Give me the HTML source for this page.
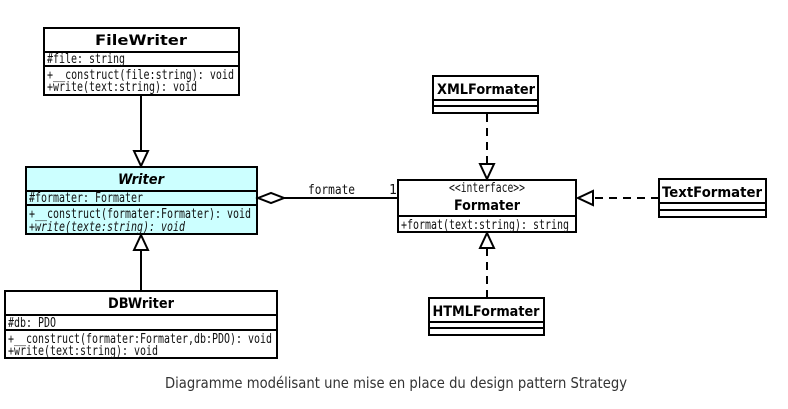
<!DOCTYPE html>
<html><head><meta charset="utf-8"><style>
body{margin:0;background:#fff;}
svg{display:block}
.m{font-family:"DejaVu Sans Mono",monospace;font-size:13px;fill:#111}
.b{font-family:"DejaVu Sans","Liberation Sans",sans-serif;font-size:14px;font-weight:bold;fill:#000}
</style></head><body>
<svg width="788" height="409" viewBox="0 0 788 409" xmlns="http://www.w3.org/2000/svg">
<rect width="788" height="409" fill="#fff"/>
<g stroke="#000" stroke-width="2" fill="#fff">
<rect x="44" y="28" width="195" height="67"/>
<line x1="44" y1="52" x2="239" y2="52"/><line x1="44" y1="66" x2="239" y2="66"/>
<rect x="26" y="167" width="231" height="67" fill="#ccffff"/>
<line x1="26" y1="191" x2="257" y2="191"/><line x1="26" y1="205" x2="257" y2="205"/>
<rect x="5" y="291" width="272" height="67"/>
<line x1="5" y1="315" x2="277" y2="315"/><line x1="5" y1="330" x2="277" y2="330"/>
<rect x="398" y="180" width="178" height="52"/>
<line x1="398" y1="216" x2="576" y2="216"/>
<rect x="433" y="76" width="105" height="37"/>
<line x1="433" y1="100" x2="538" y2="100"/><line x1="433" y1="106" x2="538" y2="106"/>
<rect x="659" y="179" width="107" height="38"/>
<line x1="659" y1="203" x2="766" y2="203"/><line x1="659" y1="210" x2="766" y2="210"/>
<rect x="429" y="298" width="115" height="37"/>
<line x1="429" y1="322" x2="544" y2="322"/><line x1="429" y1="328" x2="544" y2="328"/>
<line x1="141" y1="95" x2="141" y2="151"/>
<polygon points="134,151 148,151 141,166"/>
<line x1="141" y1="291" x2="141" y2="250"/>
<polygon points="134,250 148,250 141,235"/>
<line x1="284" y1="198" x2="398" y2="198"/>
<polygon points="258,198 271,193 284,198 271,203"/>
<g stroke-dasharray="8,6">
<line x1="487" y1="114" x2="487" y2="164"/>
<line x1="659" y1="198" x2="593" y2="198"/>
<line x1="487" y1="298" x2="487" y2="248"/>
</g>
<polygon points="480,164 494,164 487,179"/>
<polygon points="593,191 593,205 578,198"/>
<polygon points="480,248 494,248 487,233"/>
</g>
<text class="b" x="141" y="45" text-anchor="middle" textLength="92" lengthAdjust="spacingAndGlyphs">FileWriter</text>
<text class="m" x="47" y="63" textLength="78" lengthAdjust="spacingAndGlyphs">#file: string</text>
<text class="m" x="47" y="79" textLength="187" lengthAdjust="spacingAndGlyphs">+__construct(file:string): void</text>
<text class="m" x="47" y="91" textLength="150" lengthAdjust="spacingAndGlyphs">+write(text:string): void</text>
<text class="b" x="141" y="184" text-anchor="middle" font-style="italic" textLength="46" lengthAdjust="spacingAndGlyphs">Writer</text>
<text class="m" x="29" y="202" textLength="114" lengthAdjust="spacingAndGlyphs">#formater: Formater</text>
<text class="m" x="29" y="218" textLength="222" lengthAdjust="spacingAndGlyphs">+__construct(formater:Formater): void</text>
<text class="m" x="29" y="231" font-style="italic" textLength="156" lengthAdjust="spacingAndGlyphs">+write(texte:string): void</text>
<text class="b" x="141" y="308" text-anchor="middle" textLength="66" lengthAdjust="spacingAndGlyphs">DBWriter</text>
<text class="m" x="8" y="327" textLength="48" lengthAdjust="spacingAndGlyphs">#db: PDO</text>
<text class="m" x="8" y="343" textLength="264" lengthAdjust="spacingAndGlyphs">+__construct(formater:Formater,db:PDO): void</text>
<text class="m" x="8" y="355" textLength="150" lengthAdjust="spacingAndGlyphs">+write(text:string): void</text>
<text class="m" x="308" y="194" textLength="47" lengthAdjust="spacingAndGlyphs">formate</text>
<text class="m" x="389" y="194">1</text>
<text class="m" x="487" y="192" text-anchor="middle" font-size="10" textLength="76" lengthAdjust="spacingAndGlyphs">&lt;&lt;interface&gt;&gt;</text>
<text class="b" x="487" y="210" text-anchor="middle" textLength="66" lengthAdjust="spacingAndGlyphs">Formater</text>
<text class="m" x="401" y="229" textLength="168" lengthAdjust="spacingAndGlyphs">+format(text:string): string</text>
<text class="b" x="486" y="94" text-anchor="middle" textLength="98" lengthAdjust="spacingAndGlyphs">XMLFormater</text>
<text class="b" x="712" y="197" text-anchor="middle" textLength="100" lengthAdjust="spacingAndGlyphs">TextFormater</text>
<text class="b" x="486" y="316" text-anchor="middle" textLength="107" lengthAdjust="spacingAndGlyphs">HTMLFormater</text>
<text x="396" y="388" text-anchor="middle" font-family="'DejaVu Sans','Liberation Sans',sans-serif" font-size="15" fill="#333" textLength="462" lengthAdjust="spacingAndGlyphs">Diagramme modélisant une mise en place du design pattern Strategy</text>
</svg>
</body></html>
